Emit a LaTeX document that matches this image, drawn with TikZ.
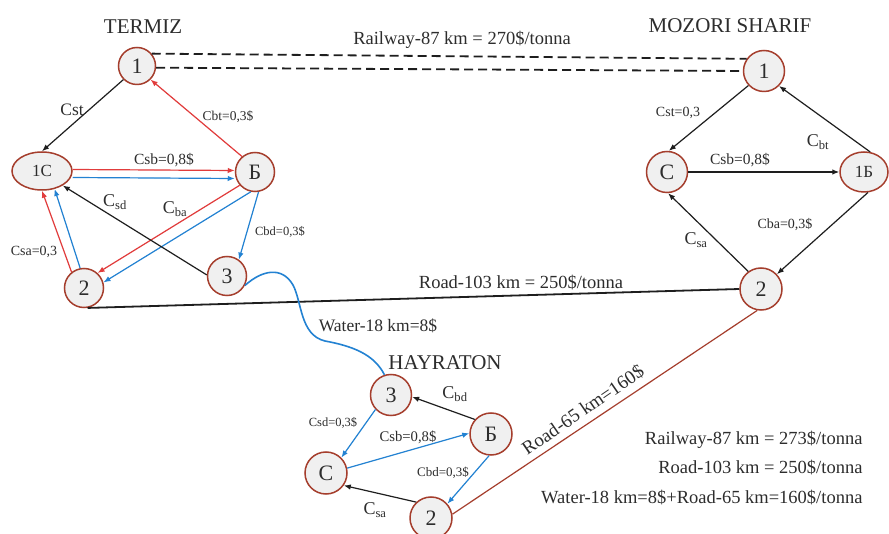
\documentclass[tikz,border=0pt]{standalone}
\usepackage{fontspec}
\setmainfont{Liberation Serif}
\usetikzlibrary{shapes.geometric,arrows.meta}
\definecolor{brn}{RGB}{165,62,45}
\definecolor{ndfill}{RGB}{240,240,240}
\definecolor{txt}{RGB}{45,45,45}
\definecolor{blu}{RGB}{35,130,210}
\definecolor{rd}{RGB}{225,60,60}
\definecolor{blk}{RGB}{30,30,30}
\newcommand{\fs}[1]{\fontsize{#1}{#1}\selectfont}
\tikzset{
  nd/.style={circle, draw=brn, line width=1.5pt, fill=ndfill, minimum size=39pt, inner sep=0pt, font=\fs{22}, text=txt},
  ndel/.style={ellipse, draw=brn, line width=1.5pt, fill=ndfill, inner sep=0pt, font=\fs{17}, text=txt},
  tip/.style={-{Latex[length=7pt,width=5.5pt]}},
  barr/.style={tip, draw=blk, line width=1.2pt},
  rarr/.style={tip, draw=rd, fill=rd, line width=1.2pt},
  uarr/.style={tip, draw=blu, fill=blu, line width=1.2pt},
  city/.style={font=\fs{21}, text=txt},
  big/.style={font=\fs{18.5}, text=txt},
  sml/.style={font=\fs{13}, text=txt},
  mid/.style={font=\fs{15.5}, text=txt},
  cl/.style={font=\fs{18}, text=txt, inner sep=0pt},
  rail/.style={dashed, dash pattern=on 9pt off 5pt, line width=1.8pt, draw=blk}
}
\begin{document}
\begin{tikzpicture}[x=1pt,y=-1pt]
\useasboundingbox[fill=white] (0,0) rectangle (889,534);
\begin{scope}
\clip (0,0) rectangle (889,534);
% ---- Termiz nodes
\node[nd, minimum size=37pt] (T1) at (137,66) {1};
\node[ndel, minimum width=60pt, minimum height=38pt] (T1C) at (42,171) {1C};
\node[nd] (TB) at (255,172) {Б};
\node[nd] (T2) at (84,288) {2};
\node[nd] (T3) at (227,276) {3};
% ---- Mozori nodes
\node[nd, minimum size=41pt] (M1) at (764,71) {1};
\node[nd, minimum size=41pt] (MC) at (667,172) {C};
\node[ndel, minimum width=48pt, minimum height=40pt] (M1B) at (864,172) {1Б};
\node[nd, minimum size=42pt] (M2) at (761,289) {2};
% ---- Hayraton nodes
\node[nd, minimum size=41pt] (H3) at (391,395) {3};
\node[nd, minimum size=42pt] (HB) at (491,434) {Б};
\node[nd, minimum size=42pt] (HC) at (326,473) {C};
\node[nd, minimum size=42pt] (H2) at (431,518) {2};
\end{scope}

% ---- city titles
\node[city] (tTermiz) at (143,27) {TERMIZ};
\node[city] (tMozori) at (730,26) {MOZORI SHARIF};
\node[city] (tHayr) at (445,363) {HAYRATON};

% ---- long links
\draw[rail] (T1.40) -- (M1.145);
\draw[rail] (T1.-5) -- (M1.180);
\node[big] (lRail) at (462,40) {Railway-87 km = 270\$/tonna};
\draw[blk, line width=1.8pt] (T2.-80) -- (M2.west);
\node[big] (lRoad) at (521,283) {Road-103 km = 250\$/tonna};
\draw[blu, line width=1.6pt] (T3.-28) .. controls (262,270) and (282,266) .. (293,285)
   .. controls (302,302) and (300,335) .. (325,341)
   .. controls (352,346) and (374,354) .. (H3.108);
\node[big, font=\fs{17.5}] (lWater) at (378,326) {Water-18 km=8\$};
\draw[brn, line width=1.2pt] (M2.-100) -- (H2.10);
\node[big, font=\fs{19}, rotate=34.5] (lRoad65) at (583,410) {Road-65 km=160\$};

% ---- Termiz edges
\draw[barr] (T1.225) -- (T1C.north);
\node[cl, font=\fs{17.5}] (lCst) at (72,110) {Cst};
\draw[rarr] (TB.130) -- (T1.-45);
\node[sml, font=\fs{13.5}] (lCbt) at (228,117) {Cbt=0,3\$};
\draw[rarr] ([yshift=1.5pt]T1C.east) -- ([yshift=1.5pt]TB.west);
\draw[uarr] ([yshift=-6.5pt]T1C.east) -- ([yshift=-6.5pt]TB.west);
\node[mid] (lCsbT) at (164,160) {Csb=0,8\$};
\draw[rarr] (TB.221) -- (T2.48);
\draw[uarr] (TB.258) -- (T2.16);
\draw[uarr] (TB.280) -- (T3.54);
\node[sml, font=\fs{12.5}] (lCbdT) at (280,232) {Cbd=0,3\$};
\draw[barr] (T3.177) -- (T1C.-35);
\node[cl] (lCsd) at (115,202) {C\textsubscript{sd}};
\node[cl] (lCba) at (175,209) {C\textsubscript{ba}};
\draw[rarr] (T2.128) -- (T1C.-90);
\draw[uarr] (T2.101) -- (T1C.-55);
\node[sml, font=\fs{14}] (lCsaT) at (34,252) {Csa=0,3};

% ---- Mozori edges
\draw[barr] (M1.223) -- (MC.85);
\node[sml, font=\fs{14}] (lCstM) at (678,113) {Cst=0,3};
\draw[barr] (M1B.73) -- (M1.-45);
\node[cl] (lCbtM) at (818,142) {C\textsubscript{bt}};
\draw[barr] (MC.east) -- (M1B.west);
\node[mid] (lCsbM) at (740,160) {Csb=0,8\$};
\draw[barr] (M1B.-79) -- (M2.43);
\node[sml, font=\fs{14}] (lCbaM) at (785,225) {Cba=0,3\$};
\draw[barr] (M2.126) -- (MC.-87);
\node[cl] (lCsaM) at (696,240) {C\textsubscript{sa}};

% ---- Hayraton edges
\draw[barr] (HB.138) -- (H3.-5);
\node[cl] (lCbdH) at (455,394) {C\textsubscript{bd}};
\draw[uarr] (H3.223) -- (HC.45);
\node[sml, font=\fs{12.5}] (lCsdH) at (333,423) {Csd=0,3\$};
\draw[uarr] (HC.13) -- (HB.178);
\node[mid, font=\fs{14.7}] (lCsbH) at (408,437) {Csb=0,8\$};
\draw[uarr] (HB.265) -- (H2.41);
\node[sml] (lCbdH2) at (443,473) {Cbd=0,3\$};
\draw[barr] (H2.133) -- (HC.-35);
\node[cl] (lCsaH) at (375,510) {C\textsubscript{sa}};

% ---- summary
\node[big, anchor=east] (s1) at (866,440) {Railway-87 km = 273\$/tonna};
\node[big, anchor=east] (s2) at (866,468) {Road-103 km = 250\$/tonna};
\node[big, anchor=east] (s3) at (866,498) {Water-18 km=8\$+Road-65 km=160\$/tonna};
\end{tikzpicture}
\end{document}
